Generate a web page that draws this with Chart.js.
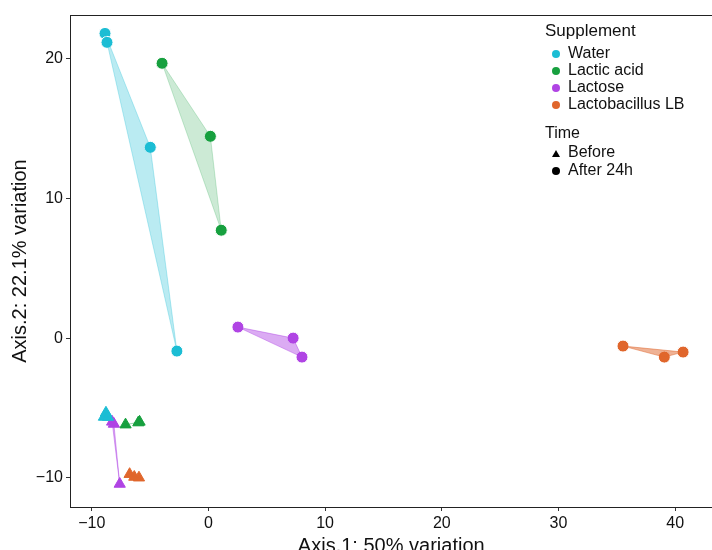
<!DOCTYPE html>
<html>
<head>
<meta charset="utf-8">
<script src="https://cdn.jsdelivr.net/npm/chart.js@4/dist/chart.umd.min.js"></script>
<style>
  body { margin: 0; background: #fff; }
  #wrap { width: 712px; height: 550px; overflow: hidden; position: relative; }
</style>
</head>
<body>
<div id="wrap"><canvas id="myChart" width="720" height="562"></canvas></div>
<script>
// groups and colours
const groups = ['Water', 'Lactic acid', 'Lactose', 'Lactobacillus LB'];
const colors = ['#1cbdd4', '#17a03f', '#b044e4', '#e0662c'];
const hullColors = ['rgba(28,189,212,0.3)', 'rgba(23,160,63,0.22)', 'rgba(176,68,228,0.45)', 'rgba(224,102,44,0.5)'];

// After 24h (circles)
const waterAfter = [[-8.86, 21.83], [-8.69, 21.19], [-4.98, 13.67], [-2.70, -0.93]];
const lacticAfter = [[-3.97, 19.69], [0.17, 14.46], [1.10, 7.73]];
const lactoseAfter = [[2.53, 0.79], [7.26, 0.0], [8.02, -1.36]];
const lactoLBAfter = [[35.53, -0.57], [39.07, -1.36], [40.68, -1.0]];

// Before (triangles)
const waterBefore = [[-8.95, -5.65], [-8.78, -5.35], [-8.6, -5.65]];
const lacticBefore = [[-7.1, -6.2], [-5.9, -6.0], [-6.0, -6.05]];
const lactoseBefore = [[-8.25, -6.0], [-8.1, -6.15], [-7.6, -10.45]];
const lactoLBBefore = [[-6.75, -9.75], [-6.35, -9.95], [-5.95, -10.0]];

// hull order (indices into the arrays above)
const waterAfterHull = [0, 2, 3, 1];

const afterSets = [waterAfter, lacticAfter, lactoseAfter, lactoLBAfter];
const beforeSets = [waterBefore, lacticBefore, lactoseBefore, lactoLBBefore];

const xTicks = [-10, 0, 10, 20, 30, 40];
const yTicks = [-10, 0, 10, 20];

function toPts(arr) {
    return arr.map(function (p) { return { x: p[0], y: p[1] }; });
}

function hullPts(arr, order) {
    var pts = order ? order.map(function (i) { return arr[i]; }) : arr.slice();
    pts.push(pts[0]);
    return toPts(pts);
}

var datasets = [];
groups.forEach(function (g, i) {
    datasets.push({
        label: g + ' after hull',
        data: hullPts(afterSets[i], i === 0 ? waterAfterHull : null),
        showLine: true,
        fill: 'shape',
        backgroundColor: hullColors[i],
        borderColor: hullColors[i],
        borderWidth: 1,
        pointRadius: 0
    });
    datasets.push({
        label: g + ' before hull',
        data: hullPts(beforeSets[i]),
        showLine: true,
        fill: 'shape',
        backgroundColor: hullColors[i],
        borderColor: hullColors[i],
        borderWidth: 1,
        pointRadius: 0
    });
});
groups.forEach(function (g, i) {
    datasets.push({
        label: g + ' before',
        data: toPts(beforeSets[i]),
        pointStyle: 'triangle',
        pointRadius: 6.5,
        backgroundColor: colors[i],
        borderColor: colors[i],
        borderWidth: 1
    });
    datasets.push({
        label: g + ' after',
        data: toPts(afterSets[i]),
        pointStyle: 'circle',
        pointRadius: 6,
        backgroundColor: colors[i],
        borderColor: '#ffffff',
        borderWidth: 1
    });
});

const FONT = "'Liberation Sans', Arial, sans-serif";

const framePlugin = {
    id: 'frame',
    afterDraw: function (chart) {
        var a = chart.chartArea, ctx = chart.ctx;
        ctx.save();
        ctx.strokeStyle = '#222';
        ctx.lineWidth = 1;
        ctx.strokeRect(a.left + 0.5, a.top + 0.5, a.right - a.left, a.bottom - a.top);

        // legend
        ctx.fillStyle = '#111';
        ctx.textBaseline = 'middle';
        ctx.textAlign = 'left';
        ctx.font = '17px ' + FONT;
        ctx.fillText('Supplement', 545, 31);
        ctx.font = '16px ' + FONT;
        groups.forEach(function (g, i) {
            var y = 54 + i * 17;
            ctx.fillStyle = colors[i];
            ctx.beginPath();
            ctx.arc(556, y, 4, 0, Math.PI * 2);
            ctx.fill();
            ctx.fillStyle = '#111';
            ctx.fillText(g, 568, y);
        });
        ctx.font = '16px ' + FONT;
        ctx.fillText('Time', 545, 134);
        ctx.fillStyle = '#000';
        ctx.beginPath();
        ctx.moveTo(552, 157);
        ctx.lineTo(556, 150);
        ctx.lineTo(560, 157);
        ctx.closePath();
        ctx.fill();
        ctx.beginPath();
        ctx.arc(556, 171, 4, 0, Math.PI * 2);
        ctx.fill();
        ctx.fillStyle = '#111';
        ctx.fillText('Before', 568, 153);
        ctx.fillText('After 24h', 568, 171);
        ctx.restore();
    }
};

function minusTick(v) {
    return String(v).replace('-', '\u2212');
}

new Chart(document.getElementById('myChart').getContext('2d'), {
    type: 'scatter',
    data: { datasets: datasets },
    plugins: [framePlugin],
    options: {
        responsive: false,
        animation: false,
        layout: { padding: { top: 15, right: 2, left: 4, bottom: 0 } },
        plugins: { legend: { display: false }, tooltip: { enabled: false } },
        scales: {
            x: {
                type: 'linear',
                min: -11.86,
                max: 43.2,
                afterFit: function (s) { s.height = 55; },
                afterBuildTicks: function (s) { s.ticks = xTicks.map(function (v) { return { value: v }; }); },
                grid: { drawOnChartArea: false, drawTicks: true, tickLength: 4, color: '#333' },
                border: { display: false },
                ticks: { color: '#111', font: { size: 16, family: FONT }, padding: 3, callback: minusTick },
                title: { display: true, text: 'Axis.1: 50% variation', color: '#111', font: { size: 20, family: FONT }, padding: { top: 0 } }
            },
            y: {
                type: 'linear',
                min: -12.1,
                max: 23.15,
                afterFit: function (s) { s.width = 66; },
                afterBuildTicks: function (s) { s.ticks = yTicks.map(function (v) { return { value: v }; }); },
                grid: { drawOnChartArea: false, drawTicks: true, tickLength: 4, color: '#333' },
                border: { display: false },
                ticks: { color: '#111', font: { size: 16, family: FONT }, padding: 3, callback: minusTick },
                title: { display: true, text: 'Axis.2: 22.1% variation', color: '#111', font: { size: 20, family: FONT }, padding: { bottom: 4 } }
            }
        }
    }
});
</script>
</body>
</html>
